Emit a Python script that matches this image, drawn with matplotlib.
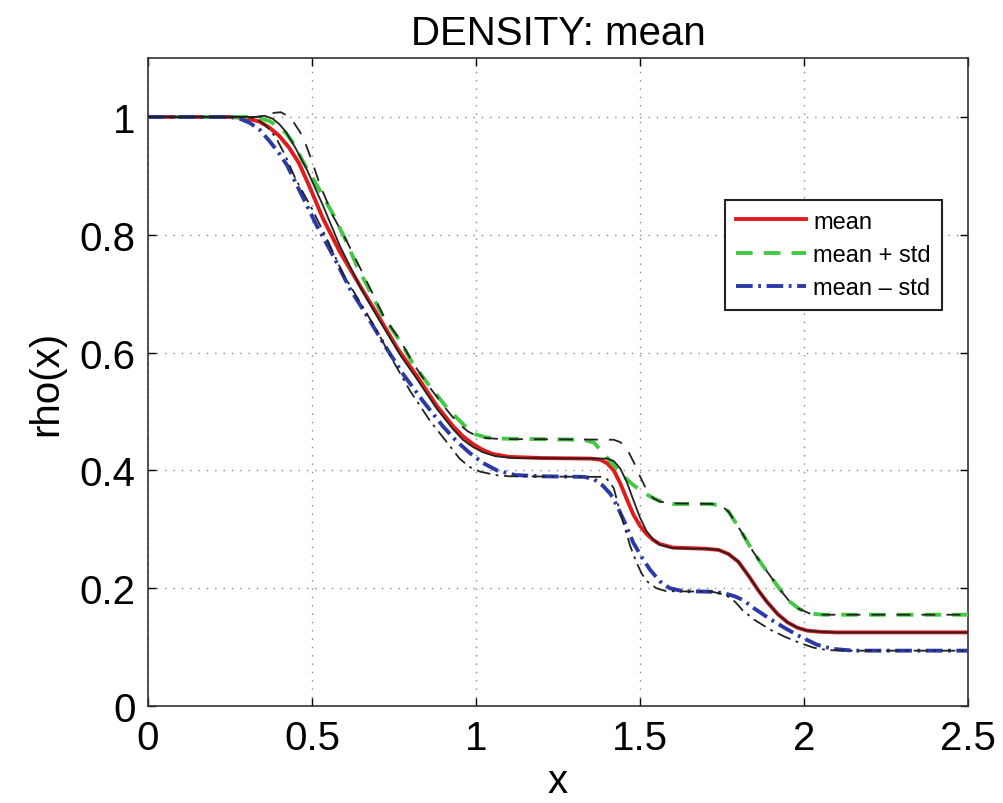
import matplotlib
matplotlib.use('Agg')
import matplotlib.pyplot as plt

plt.rcParams['font.family'] = ['Liberation Sans', 'DejaVu Sans']
plt.rcParams['lines.scale_dashes'] = False

# mean (red solid)
mean_x = [0, 0.25, 0.30, 0.34, 0.37, 0.40, 0.43, 0.46, 0.49, 0.534, 0.585, 0.65, 0.70,
          0.762, 0.82, 0.88, 0.93, 0.96, 0.99, 1.02, 1.05, 1.1, 1.2, 1.35, 1.38, 1.40,
          1.42, 1.44, 1.46, 1.48, 1.50, 1.52, 1.54, 1.56, 1.60, 1.70, 1.74, 1.77, 1.80,
          1.835, 1.86, 1.887, 1.92, 1.95, 1.98, 2.01, 2.05, 2.1, 2.5]
mean_y = [1, 1, 0.998, 0.992, 0.982, 0.968, 0.948, 0.922, 0.885, 0.827, 0.771, 0.71, 0.664,
          0.606, 0.56, 0.51, 0.475, 0.458, 0.445, 0.435, 0.428, 0.423, 0.421, 0.42, 0.418, 0.412,
          0.40, 0.378, 0.351, 0.325, 0.306, 0.292, 0.282, 0.275, 0.269, 0.267, 0.265, 0.258, 0.245,
          0.218, 0.197, 0.177, 0.156, 0.142, 0.133, 0.128, 0.126, 0.125, 0.125]

# mean + std (green dashed)
plus_x = [0, 0.30, 0.34, 0.37, 0.40, 0.42, 0.44, 0.473, 0.518, 0.564, 0.601, 0.637, 0.716,
          0.768, 0.808, 0.860, 0.915, 0.94, 0.976, 1.0, 1.03, 1.08, 1.2, 1.33, 1.36, 1.387,
          1.418, 1.448, 1.48, 1.509, 1.54, 1.57, 1.6, 1.72, 1.75, 1.77, 1.784, 1.81, 1.845,
          1.875, 1.906, 1.935, 1.957, 1.985, 2.018, 2.06, 2.5]
plus_y = [1, 1, 0.998, 0.993, 0.983, 0.973, 0.958, 0.924, 0.881, 0.835, 0.793, 0.747, 0.662,
          0.620, 0.581, 0.542, 0.504, 0.49, 0.47, 0.461, 0.456, 0.454, 0.453, 0.452, 0.447, 0.43,
          0.41, 0.391, 0.375, 0.363, 0.353, 0.346, 0.343, 0.343, 0.339, 0.33, 0.318, 0.295, 0.262,
          0.238, 0.214, 0.192, 0.177, 0.165, 0.157, 0.155, 0.155]

# mean - std (blue dash-dot)
minus_x = [0, 0.25, 0.28, 0.31, 0.341, 0.372, 0.40, 0.424, 0.470, 0.515, 0.564, 0.616, 0.668,
           0.723, 0.777, 0.838, 0.899, 0.94, 0.98, 1.02, 1.064, 1.12, 1.2, 1.33, 1.36, 1.387,
           1.41, 1.43, 1.455, 1.479, 1.505, 1.53, 1.56, 1.591, 1.63, 1.72, 1.76, 1.79, 1.814,
           1.85, 1.896, 1.94, 1.988, 2.04, 2.088, 2.15, 2.5]
minus_y = [1, 1, 0.997, 0.99, 0.978, 0.958, 0.938, 0.918, 0.866, 0.815, 0.765, 0.708, 0.662,
           0.611, 0.564, 0.518, 0.475, 0.45, 0.43, 0.413, 0.40, 0.392, 0.39, 0.389, 0.385, 0.374,
           0.36, 0.34, 0.31, 0.278, 0.253, 0.232, 0.212, 0.2, 0.195, 0.194, 0.191, 0.186, 0.18,
           0.165, 0.148, 0.133, 0.118, 0.104, 0.097, 0.094, 0.094]

# thin black reference curves
ref_x = [0, 0.33, 0.355, 0.38, 0.40, 0.42, 0.45, 0.485, 0.534, 0.585, 0.65, 0.70, 0.77,
         0.82, 0.88, 0.93, 0.96, 0.99, 1.02, 1.06, 1.12, 1.40, 1.42, 1.44, 1.46, 1.479, 1.50,
         1.52, 1.54, 1.56, 1.60, 1.70, 1.74, 1.77, 1.80, 1.835, 1.86, 1.887, 1.92, 1.95, 1.98,
         2.01, 2.05, 2.1, 2.5]
ref_y = [1, 1, 1.002, 0.997, 0.988, 0.975, 0.947, 0.91, 0.849, 0.781, 0.708, 0.66, 0.595,
         0.555, 0.505, 0.47, 0.452, 0.44, 0.431, 0.424, 0.421, 0.42, 0.416, 0.403, 0.38, 0.351,
         0.32, 0.297, 0.283, 0.274, 0.268, 0.267, 0.265, 0.258, 0.245, 0.218, 0.197, 0.177,
         0.156, 0.142, 0.133, 0.128, 0.126, 0.125, 0.125]

up_x = [0, 0.33, 0.36, 0.385, 0.405, 0.425, 0.445, 0.463, 0.48, 0.50, 0.524, 0.564, 0.607,
        0.65, 0.72, 0.77, 0.81, 0.86, 0.915, 0.945, 0.976, 1.0, 1.03, 1.08, 1.2, 1.42, 1.44,
        1.46, 1.48, 1.50, 1.52, 1.54, 1.56, 1.60, 1.72, 1.75, 1.77, 1.784, 1.81, 1.845, 1.875,
        1.906, 1.935, 1.957, 1.985, 2.018, 2.06, 2.5]
up_y = [1, 1, 1.002, 1.007, 1.008, 1.002, 0.99, 0.975, 0.955, 0.925, 0.885, 0.832, 0.788,
        0.74, 0.66, 0.62, 0.58, 0.54, 0.50, 0.48, 0.466, 0.459, 0.455, 0.453, 0.453, 0.452,
        0.448, 0.437, 0.415, 0.39, 0.367, 0.353, 0.347, 0.344, 0.343, 0.339, 0.33, 0.318, 0.295,
        0.262, 0.238, 0.214, 0.192, 0.177, 0.165, 0.157, 0.155, 0.155]

lo_x = [0, 0.30, 0.33, 0.36, 0.39, 0.42, 0.448, 0.50, 0.548, 0.595, 0.646, 0.698, 0.747,
        0.799, 0.860, 0.921, 0.95, 0.98, 1.012, 1.06, 1.1, 1.38, 1.40, 1.42, 1.439, 1.455,
        1.47, 1.49, 1.506, 1.525, 1.55, 1.58, 1.72, 1.76, 1.79, 1.814, 1.85, 1.896, 1.94,
        1.988, 2.03, 2.07, 2.12, 2.5]
lo_y = [1, 1, 0.997, 0.985, 0.965, 0.933, 0.897, 0.844, 0.79, 0.733, 0.686, 0.637, 0.586,
        0.535, 0.484, 0.441, 0.42, 0.406, 0.398, 0.392, 0.39, 0.389, 0.385, 0.37, 0.33, 0.30,
        0.272, 0.243, 0.224, 0.21, 0.2, 0.195, 0.194, 0.189, 0.177, 0.162, 0.146, 0.13, 0.118,
        0.107, 0.099, 0.095, 0.094, 0.094]

xticks = [0, 0.5, 1, 1.5, 2, 2.5]
xtick_labels = ['0', '0.5', '1', '1.5', '2', '2.5']
yticks = [0, 0.2, 0.4, 0.6, 0.8, 1]
ytick_labels = ['0', '0.2', '0.4', '0.6', '0.8', '1']

fig = plt.figure(figsize=(10.04, 8.04), dpi=100)
ax = fig.add_axes([0.1474, 0.1206, 0.8167, 0.806])

ax.plot(mean_x, mean_y, color='#e31a1c', lw=2.8, label='mean', zorder=3)
ax.plot(plus_x, plus_y, color='#44c844', lw=2.8, dashes=(12, 8), label='mean + std', zorder=3)
ax.plot(minus_x, minus_y, color='#2a3aa8', lw=2.8, dashes=(12, 4, 2, 4),
        label='mean – std', zorder=3)

ax.plot(ref_x, ref_y, color='#222222', lw=1.3, zorder=4)
ax.plot(up_x, up_y, color='#222222', lw=1.3, dashes=(10, 8), zorder=4)
ax.plot(lo_x, lo_y, color='#222222', lw=1.3, dashes=(10, 4, 2, 4), zorder=4)

ax.set_xlim(0, 2.5)
ax.set_ylim(0, 1.1)
ax.set_xticks(xticks)
ax.set_xticklabels(xtick_labels)
ax.set_yticks(yticks)
ax.set_yticklabels(ytick_labels)
ax.tick_params(direction='in', length=6, width=1, top=True, right=True,
               labelsize=29, pad=9)
ax.grid(True, linestyle=(0, (1, 5)), color='#888888', lw=1)
for s in ax.spines.values():
    s.set_linewidth(1.2)
    s.set_color('#333333')

ax.set_title('DENSITY: mean', fontsize=29, pad=10)
ax.set_xlabel('x', fontsize=29, labelpad=4)
ax.set_ylabel('rho(x)', fontsize=29, labelpad=10)

leg = ax.legend(loc='upper right', bbox_to_anchor=(0.968, 0.781), borderaxespad=0,
                fontsize=17, handlelength=3.0, handletextpad=0.3, labelspacing=0.48,
                fancybox=False, framealpha=1, edgecolor='#222222', borderpad=0.45)
leg.get_frame().set_linewidth(1.5)

fig.savefig('out.png', dpi=100)
